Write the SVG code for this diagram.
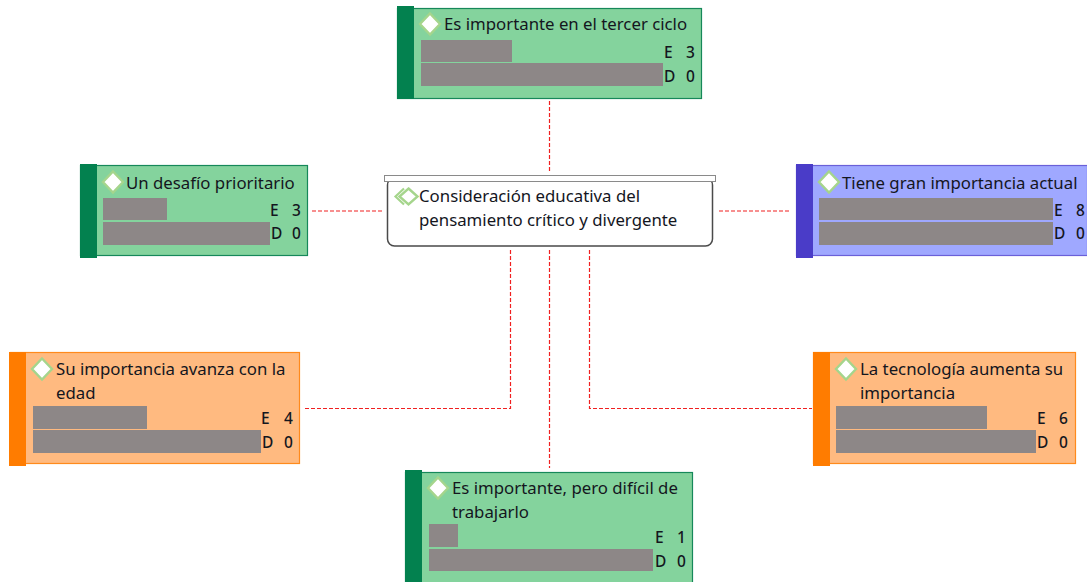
<svg xmlns="http://www.w3.org/2000/svg" width="1087" height="582" viewBox="0 0 1087 582">
<style>
text{font-family:"Noto Sans","Open Sans","Liberation Sans",sans-serif;font-size:16.8px;fill:#14161e}
text.n{font-size:15.500px;font-weight:500}
.g{fill:#84d39d;stroke:#16885a;stroke-width:1.2}
.gb{fill:#03814f}
.o{fill:#ffba80;stroke:#ff8a1c;stroke-width:1.2}
.ob{fill:#ff7c00}
.b{fill:#9fa8ff;stroke:#6a60d8;stroke-width:1.2}
.bb{fill:#4a3cc8}
.bar{fill:#8d8787}
.d{fill:#fff;stroke:#a5d58c;stroke-width:2.4}
.c{fill:none;stroke:#f02020;stroke-width:1.2;stroke-dasharray:4 2}
</style>
<g id="connectors">
<path class="c" d="M549.500 101V172"/>
<path class="c" d="M312 211H382"/>
<path class="c" d="M719 211H790"/>
<path class="c" d="M510.500 250V408.500H305"/>
<path class="c" d="M589.500 250V408.500H812"/>
<path class="c" d="M549.500 250V468"/>
</g>
<g id="center">
<rect x="387.500" y="178" width="325" height="68" rx="7" fill="#fff" stroke="#4a4a4a" stroke-width="1.500"/>
<rect x="384.500" y="175.500" width="331" height="6" fill="#fff" stroke="#8a8a8a" stroke-width="1"/>
<path d="M404 188.500L395.500 196.500L404 204.500" fill="none" stroke="#a5d58c" stroke-width="2.200"/>
<path class="d" d="M408.500 188.500L417.500 196.500L408.500 204.500L399.500 196.500Z"/>
<text x="419" y="202">Consideración educativa del</text>
<text x="419" y="226">pensamiento crítico y divergente</text>
</g>
<g id="n-top">
<rect class="g" x="397.500" y="8.500" width="304" height="90"/>
<rect class="gb" x="397" y="6" width="17" height="93"/>
<path class="d" d="M430 13.500L440 24L430 34.500L420 24Z"/>
<text x="444" y="30">Es importante en el tercer ciclo</text>
<rect class="bar" x="421" y="40" width="91" height="22"/>
<rect class="bar" x="421" y="63" width="242" height="23"/>
<text class="n" x="664" y="58">E</text><text class="n" x="686" y="58">3</text>
<text class="n" x="664" y="82">D</text><text class="n" x="686" y="82">0</text>
</g>
<g id="n-left">
<rect class="g" x="80.500" y="165.500" width="227" height="90"/>
<rect class="gb" x="80" y="164" width="17" height="94"/>
<path class="d" d="M113 171.500L123 182L113 192.500L103 182Z"/>
<text x="126" y="189">Un desafío prioritario</text>
<rect class="bar" x="103" y="198" width="64" height="22"/>
<rect class="bar" x="103" y="222" width="167" height="23"/>
<text class="n" x="270" y="216">E</text><text class="n" x="292" y="216">3</text>
<text class="n" x="271" y="239">D</text><text class="n" x="292" y="239">0</text>
</g>
<g id="n-right">
<rect class="b" x="796.500" y="165.500" width="291" height="90"/>
<rect class="bb" x="796" y="164" width="17" height="94"/>
<path class="d" d="M829 171.500L839 182L829 192.500L819 182Z"/>
<text x="842" y="189">Tiene gran importancia actual</text>
<rect class="bar" x="819" y="198" width="234" height="22"/>
<rect class="bar" x="819" y="222" width="234" height="23"/>
<text class="n" x="1054" y="216">E</text><text class="n" x="1076" y="216">8</text>
<text class="n" x="1054" y="239">D</text><text class="n" x="1076" y="239">0</text>
</g>
<g id="n-lower-left">
<rect class="o" x="10.500" y="352.500" width="289" height="111"/>
<rect class="ob" x="9" y="352" width="17" height="114"/>
<path class="d" d="M42 358.500L52 369L42 379.500L32 369Z"/>
<text x="56" y="375">Su importancia avanza con la</text>
<text x="56" y="399">edad</text>
<rect class="bar" x="33" y="406" width="114" height="23"/>
<rect class="bar" x="33" y="430" width="228" height="23"/>
<text class="n" x="261" y="424">E</text><text class="n" x="284" y="424">4</text>
<text class="n" x="262" y="448">D</text><text class="n" x="284" y="448">0</text>
</g>
<g id="n-lower-right">
<rect class="o" x="813.500" y="352.500" width="262" height="111"/>
<rect class="ob" x="813" y="352" width="17" height="114"/>
<path class="d" d="M846 358.500L856 369L846 379.500L836 369Z"/>
<text x="860" y="375">La tecnología aumenta su</text>
<text x="860" y="399">importancia</text>
<rect class="bar" x="836" y="406" width="151" height="23"/>
<rect class="bar" x="836" y="430" width="200" height="23"/>
<text class="n" x="1037" y="424">E</text><text class="n" x="1059" y="424">6</text>
<text class="n" x="1037" y="448">D</text><text class="n" x="1059" y="448">0</text>
</g>
<g id="n-bottom">
<rect class="g" x="405.500" y="472.500" width="287" height="112"/>
<rect class="gb" x="405" y="470" width="17" height="114"/>
<path class="d" d="M438 477.500L448 488L438 498.500L428 488Z"/>
<text x="452" y="494">Es importante, pero difícil de</text>
<text x="452" y="518">trabajarlo</text>
<rect class="bar" x="429" y="524" width="29" height="23"/>
<rect class="bar" x="429" y="549" width="224" height="22"/>
<text class="n" x="655" y="543">E</text><text class="n" x="677" y="543">1</text>
<text class="n" x="655" y="567">D</text><text class="n" x="677" y="567">0</text>
</g>
</svg>
